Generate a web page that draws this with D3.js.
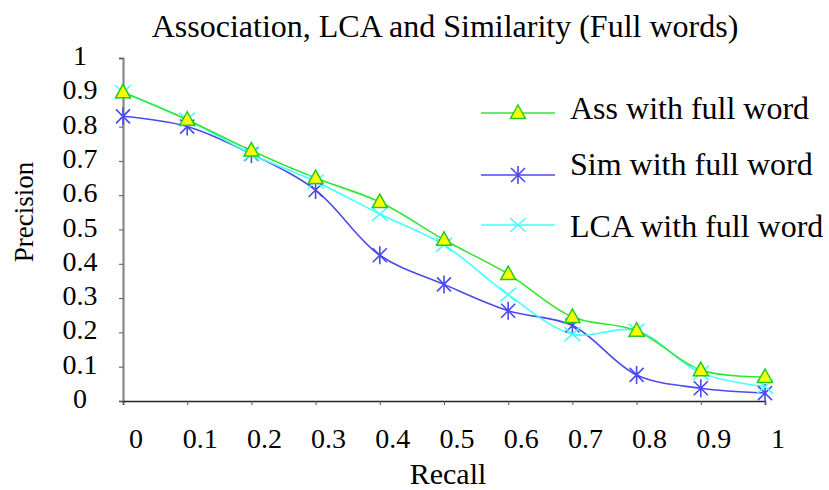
<!DOCTYPE html>
<html>
<head>
<meta charset="utf-8">
<script src="https://cdn.jsdelivr.net/npm/d3@7"></script>
<style>
  html, body { margin: 0; padding: 0; background: #fff; }
  svg text { font-family: "Liberation Serif", "Times New Roman", serif; fill: #000; }
</style>
</head>
<body>
<svg id="chart" width="829" height="490"></svg>
<script>
const recall = [0, 0.1, 0.2, 0.3, 0.4, 0.5, 0.6, 0.7, 0.8, 0.9, 1];
const assValues = [0.90, 0.82, 0.73, 0.65, 0.58, 0.47, 0.37, 0.245, 0.205, 0.09, 0.07];
const simValues = [0.83, 0.80, 0.72, 0.615, 0.425, 0.34, 0.263, 0.22, 0.076, 0.037, 0.023];
const lcaValues = [0.90, 0.82, 0.72, 0.64, 0.545, 0.455, 0.31, 0.195, 0.205, 0.082, 0.042];
const xTickLabels = ["0", "0.1", "0.2", "0.3", "0.4", "0.5", "0.6", "0.7", "0.8", "0.9", "1"];
const yTickLabels = ["0", "0.1", "0.2", "0.3", "0.4", "0.5", "0.6", "0.7", "0.8", "0.9", "1"];
const seriesNames = ["Ass with full word", "Sim with full word", "LCA with full word"];
const titleText = "Association, LCA and Similarity (Full words)";

const svg = d3.select("#chart");
const x = d3.scaleLinear().domain([0, 1]).range([123, 765]);
const y = d3.scaleLinear().domain([0, 1]).range([401, 58]);

// title
svg.append("text").attr("x", 445).attr("y", 37).attr("text-anchor", "middle")
  .style("font-size", "32px").text(titleText);

// axes
const yAxis = svg.append("g").attr("transform", `translate(${x(0)},0)`)
  .call(d3.axisLeft(y).tickValues(yTickLabels.map(Number)).tickSize(4).tickFormat(""));
yAxis.select(".domain").attr("stroke", "#888").attr("stroke-width", 2.2);
yAxis.selectAll(".tick line").attr("stroke", "#555");

const xAxis = svg.append("g").attr("transform", `translate(0,${y(0)})`)
  .call(d3.axisBottom(x).tickValues(xTickLabels.map(Number)).tickSize(4).tickFormat(""));
xAxis.select(".domain").attr("stroke", "#222").attr("stroke-width", 1.6);
xAxis.selectAll(".tick line").attr("stroke", "#555");

// tick labels
svg.append("g").selectAll("text").data(yTickLabels).join("text")
  .attr("x", 80).attr("y", d => y(+d) + 7).attr("text-anchor", "middle")
  .style("font-size", "28px").text(d => d);
svg.append("g").selectAll("text").data(xTickLabels).join("text")
  .attr("x", d => x(+d) + 13).attr("y", 448).attr("text-anchor", "middle")
  .style("font-size", "28px").text(d => d);

// axis titles
svg.append("text").attr("x", 448).attr("y", 484).attr("text-anchor", "middle")
  .style("font-size", "30px").text("Recall");
svg.append("text").attr("transform", "translate(33,212) rotate(-90)").attr("text-anchor", "middle")
  .style("font-size", "27px").text("Precision");

const line = d3.line().x((d, i) => x(recall[i])).y(d => y(d)).curve(d3.curveCatmullRom.alpha(0.5));

const series = [
  { name: seriesNames[0], values: assValues, color: "#33e633", marker: "tri" },
  { name: seriesNames[1], values: simValues, color: "#4a4aee", marker: "star" },
  { name: seriesNames[2], values: lcaValues, color: "#44ffff", marker: "x" }
];

function drawMarker(g, type, color) {
  if (type === "tri") {
    g.append("path").attr("d", "M0,-8 L7.5,5.5 L-7.5,5.5 Z")
      .attr("fill", "#ffff00").attr("stroke", "#22cc22").attr("stroke-width", 1.5);
  } else if (type === "star") {
    g.append("path").attr("d", "M-7,-7 L7,7 M-7,7 L7,-7 M0,-9 L0,9")
      .attr("stroke", color).attr("stroke-width", 1.6).attr("fill", "none");
  } else {
    g.append("path").attr("d", "M-8,-7 L8,7 M-8,7 L8,-7")
      .attr("stroke", color).attr("stroke-width", 1.5).attr("fill", "none");
  }
}

const drawOrder = [series[1], series[2], series[0]];
drawOrder.forEach(s => {
  svg.append("path").datum(s.values).attr("d", line)
    .attr("fill", "none").attr("stroke", s.color).attr("stroke-width", 1.6);
});
drawOrder.forEach(s => {
  s.values.forEach((v, i) => {
    const g = svg.append("g").attr("transform", `translate(${x(recall[i])},${y(v)})`);
    drawMarker(g, s.marker, s.color);
  });
});

// legend
const legendRows = [
  { s: series[0], ly: 113, ty: 119 },
  { s: series[1], ly: 175, ty: 175 },
  { s: series[2], ly: 225, ty: 237 }
];
legendRows.forEach(r => {
  svg.append("line").attr("x1", 481).attr("x2", 555).attr("y1", r.ly).attr("y2", r.ly)
    .attr("stroke", r.s.color).attr("stroke-width", 1.6);
  const g = svg.append("g").attr("transform", `translate(518,${r.ly})`);
  drawMarker(g, r.s.marker, r.s.color);
  svg.append("text").attr("x", 570).attr("y", r.ty).style("font-size", "32px").text(r.s.name);
});
</script>
</body>
</html>
